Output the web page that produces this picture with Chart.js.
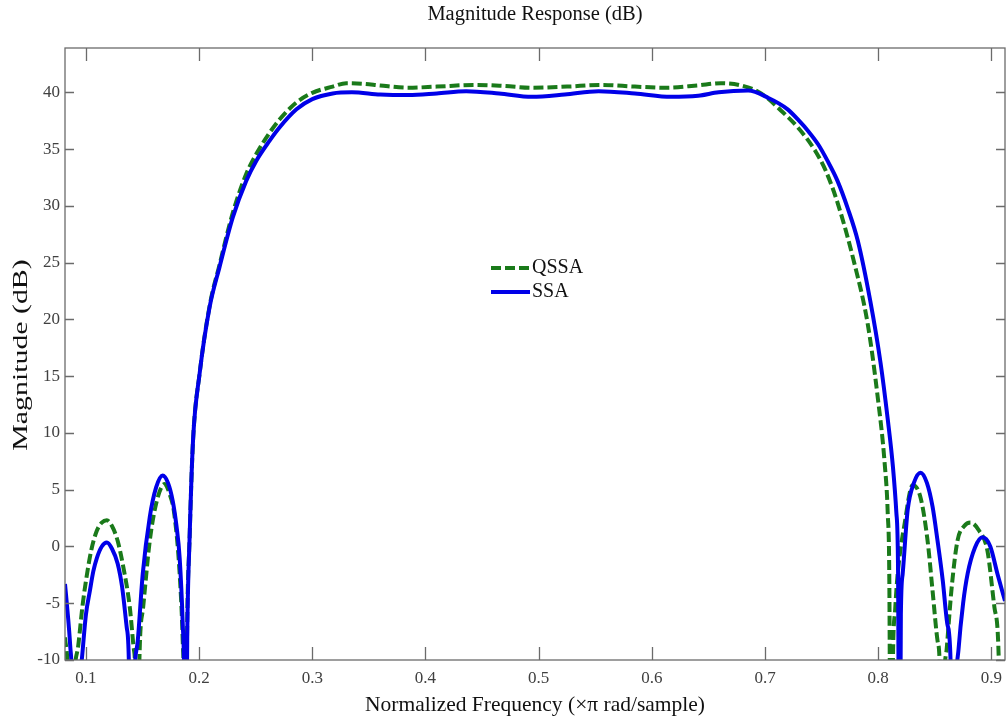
<!DOCTYPE html>
<html lang="en">
<head>
<meta charset="UTF-8">
<title>Magnitude Response (dB)</title>
<script src="https://cdn.jsdelivr.net/npm/chart.js@4"></script>
<style>
  html, body { margin: 0; padding: 0; background: #fff; }
  #chart { display: block; }
</style>
</head>
<body>
<canvas id="chart" width="1006" height="722"></canvas>
<script>
// tick labels
const xTicks = [0.1, 0.2, 0.3, 0.4, 0.5, 0.6, 0.7, 0.8, 0.9];
const yTicks = [-10, -5, 0, 5, 10, 15, 20, 25, 30, 35, 40];

// QSSA (green dashed)
const qssaFreq = [0.0815, 0.0840, 0.0868, 0.0895, 0.0930, 0.0970, 0.1010, 0.1050, 0.1097, 0.1140,
  0.1185, 0.1230, 0.1280, 0.1330, 0.1388, 0.1420, 0.1438, 0.1452, 0.1470, 0.1505,
  0.1564, 0.1626, 0.1696, 0.1740, 0.1780, 0.1828, 0.1855, 0.1866, 0.1876, 0.1893,
  0.1916, 0.1946, 0.2004, 0.2093, 0.2180, 0.2298, 0.2416, 0.2507, 0.2620, 0.2710,
  0.2860, 0.3000, 0.3180, 0.3300, 0.3450, 0.3600, 0.3850, 0.4100, 0.4440, 0.4700,
  0.4940, 0.5250, 0.5550, 0.5850, 0.6120, 0.6400, 0.6610, 0.6790, 0.6965, 0.7140,
  0.7290, 0.7440, 0.7540, 0.7643, 0.7790, 0.7907, 0.7996, 0.8057, 0.8084, 0.8098,
  0.8112, 0.8130, 0.8150, 0.8172, 0.8233, 0.8304, 0.8374, 0.8436, 0.8480, 0.8524,
  0.8545, 0.8562, 0.8580, 0.8605, 0.8650, 0.8700, 0.8760, 0.8815, 0.8890, 0.8965,
  0.9027, 0.9065, 0.9090, 0.9120];
const qssaMag = [-8.0, -11.5, -30, -12.5, -8.9, -5.2, -2.4, -0.2, 1.4, 2.1,
  2.3, 1.8, 0.5, -1.8, -5.4, -8.8, -12, -30, -11, -5.4,
  0.5, 4.0, 5.5, 4.6, 2.9, -2.4, -8.3, -13, -30, -8,
  0.8, 9.3, 15.2, 21.2, 24.8, 29.4, 32.8, 34.6, 36.4, 37.6,
  39.1, 39.95, 40.5, 40.8, 40.75, 40.6, 40.4, 40.5, 40.65, 40.55,
  40.4, 40.5, 40.65, 40.5, 40.4, 40.6, 40.8, 40.6, 39.9, 38.4,
  36.9, 34.9, 33.0, 30.2, 24.9, 19.6, 13.1, 7.3, 2.9, -3,
  -30, -10, -5.5, -2.4, 2.0, 5.4, 4.3, 0.5, -3.9, -8.3,
  -11, -30, -13, -9.0, -3.5, 0.5, 1.8, 2.1, 1.4, -0.4,
  -5.4, -10, -30, -12];

// SSA (blue solid)
const ssaFreq = [0.0815, 0.0840, 0.0860, 0.0880, 0.0905, 0.0930, 0.0965, 0.1000, 0.1035, 0.1065,
  0.1097, 0.1140, 0.1185, 0.1230, 0.1280, 0.1320, 0.1360, 0.1380, 0.1395, 0.1420,
  0.1458, 0.1502, 0.1564, 0.1620, 0.1678, 0.1725, 0.1767, 0.1800, 0.1828, 0.1855,
  0.1868, 0.1878, 0.1895, 0.1916, 0.1946, 0.2004, 0.2093, 0.2180, 0.2298, 0.2416,
  0.2507, 0.2620, 0.2710, 0.2860, 0.3000, 0.3180, 0.3350, 0.3600, 0.3850, 0.4100,
  0.4360, 0.4650, 0.4940, 0.5230, 0.5530, 0.5850, 0.6170, 0.6410, 0.6590, 0.6850,
  0.7030, 0.7200, 0.7300, 0.7380, 0.7470, 0.7550, 0.7640, 0.7730, 0.7820, 0.7930,
  0.8020, 0.8084, 0.8130, 0.8160, 0.8175, 0.8187, 0.8200, 0.8216, 0.8260, 0.8315,
  0.8374, 0.8430, 0.8480, 0.8524, 0.8570, 0.8610, 0.8639, 0.8660, 0.8685, 0.8710,
  0.8750, 0.8790, 0.8855, 0.8921, 0.8990, 0.9053, 0.9120];
const ssaMag = [-3.3, -6.0, -8.6, -12.5, -30, -14, -9.8, -6.0, -3.9, -2.2,
  -1.0, 0.0, 0.35, -0.2, -1.5, -3.6, -7.1, -10.5, -30, -13,
  -8.3, -2.4, 2.6, 5.2, 6.25, 5.6, 4.0, 1.8, -1.0, -6.8,
  -12, -30, -8, 0.8, 9.3, 15.2, 21.1, 24.6, 29.0, 32.2,
  34.0, 35.7, 36.9, 38.5, 39.4, 39.9, 40.0, 39.8, 39.75, 39.9,
  40.1, 39.9, 39.6, 39.8, 40.1, 39.9, 39.6, 39.7, 40.0, 40.15,
  39.5, 38.5, 37.5, 36.6, 35.4, 34.0, 32.2, 29.8, 26.9, 21.6,
  16.2, 11.2, 7.0, 3.0, -2.0, -30, -6.0, -2.4, 3.2, 5.6,
  6.5, 5.6, 3.5, 0.5, -3.0, -6.8, -10.0, -30, -13, -9.0,
  -5.0, -2.4, -0.1, 0.8, 0.0, -2.4, -4.8];

const serif = "'Liberation Serif', 'Times New Roman', serif";
const axisGray = '#6b6b6b';
const labelGray = '#404040';

function toPoints(xs, ys) {
  return xs.map((x, i) => ({ x: x, y: ys[i] }));
}

// MATLAB style box with inward ticks, the y label and the small legend in the middle
const boxPlugin = {
  id: 'box',
  afterDatasetsDraw(chart) {
    const { ctx, chartArea: a, scales } = chart;
    ctx.save();
    ctx.strokeStyle = axisGray;
    ctx.lineWidth = 1.3;
    ctx.strokeRect(a.left, a.top, a.right - a.left, a.bottom - a.top);
    ctx.beginPath();
    xTicks.forEach(v => {
      const px = Math.round(scales.x.getPixelForValue(v)) + 0.5;
      ctx.moveTo(px, a.bottom); ctx.lineTo(px, a.bottom - 13);
      ctx.moveTo(px, a.top); ctx.lineTo(px, a.top + 13);
    });
    yTicks.forEach(v => {
      const py = Math.round(scales.y.getPixelForValue(v)) + 0.5;
      ctx.moveTo(a.left, py); ctx.lineTo(a.left + 9, py);
      ctx.moveTo(a.right, py); ctx.lineTo(a.right - 9, py);
    });
    ctx.stroke();

    // y axis label, stretched along its length like the source image
    ctx.save();
    ctx.translate(21, (a.top + a.bottom) / 2 + 1);
    ctx.rotate(-Math.PI / 2);
    ctx.scale(1.42, 1);
    ctx.font = '21px ' + serif;
    ctx.fillStyle = '#111';
    ctx.textAlign = 'center';
    ctx.textBaseline = 'middle';
    ctx.fillText('Magnitude (dB)', 0, 0);
    ctx.restore();

    // legend
    const rows = [chart.data.datasets[0], chart.data.datasets[1]];
    ctx.font = '20px ' + serif;
    ctx.textBaseline = 'middle';
    ctx.textAlign = 'left';
    rows.forEach((ds, i) => {
      const y = 268 + i * 24;
      ctx.strokeStyle = ds.borderColor;
      ctx.lineWidth = ds.borderWidth;
      ctx.setLineDash(ds.borderDash || []);
      ctx.beginPath();
      ctx.moveTo(491, y); ctx.lineTo(530, y);
      ctx.stroke();
      ctx.setLineDash([]);
      ctx.fillStyle = '#111';
      ctx.fillText(ds.label, 532, y);
    });
    ctx.restore();
  }
};

const noSidePad = s => { s.paddingLeft = 0; s.paddingRight = 0; s.paddingTop = 0; s.paddingBottom = 0; };

new Chart(document.getElementById('chart'), {
  type: 'line',
  data: {
    datasets: [
      {
        label: 'QSSA',
        data: toPoints(qssaFreq, qssaMag),
        borderColor: '#1a7a1a',
        borderWidth: 4,
        borderDash: [10, 4],
        pointRadius: 0,
        cubicInterpolationMode: 'monotone',
        clip: 0,
        order: 2
      },
      {
        label: 'SSA',
        data: toPoints(ssaFreq, ssaMag),
        borderColor: '#0000e8',
        borderWidth: 4,
        pointRadius: 0,
        cubicInterpolationMode: 'monotone',
        clip: 0,
        order: 1
      }
    ]
  },
  options: {
    responsive: false,
    animation: false,
    layout: { padding: { left: 0, right: 1, top: 0, bottom: 0 } },
    plugins: {
      legend: { display: false },
      tooltip: { enabled: false }
    },
    scales: {
      x: {
        type: 'linear',
        min: 0.0815,
        max: 0.912,
        grid: { display: false, drawTicks: false },
        border: { display: false },
        afterBuildTicks: s => { s.ticks = xTicks.map(v => ({ value: v })); },
        afterFit: s => { s.height = 62; noSidePad(s); },
        ticks: {
          color: labelGray,
          padding: 8,
          maxRotation: 0,
          font: { family: serif, size: 17 },
          callback: v => String(v)
        },
        title: {
          display: true,
          text: 'Normalized Frequency (\u00d7\u03c0 rad/sample)',
          color: '#111',
          font: { family: serif, size: 21.5 },
          padding: { top: 0, bottom: 4 }
        }
      },
      // top axis only carries the title so it centres over the plot box
      top: {
        type: 'linear',
        position: 'top',
        min: 0.0815,
        max: 0.912,
        grid: { display: false, drawTicks: false },
        border: { display: false },
        afterFit: s => { s.height = 48; noSidePad(s); },
        ticks: { display: false },
        title: {
          display: true,
          text: 'Magnitude Response (dB)',
          color: '#111',
          font: { family: serif, size: 20.5 },
          padding: { top: 2, bottom: 0 }
        }
      },
      y: {
        min: -10,
        max: 43.9,
        grid: { display: false, drawTicks: false },
        border: { display: false },
        afterBuildTicks: s => { s.ticks = yTicks.map(v => ({ value: v })); },
        afterFit: s => { s.width = 65; noSidePad(s); },
        ticks: {
          color: labelGray,
          padding: 5,
          font: { family: serif, size: 17 }
        }
      }
    }
  },
  plugins: [boxPlugin]
});
</script>
</body>
</html>
